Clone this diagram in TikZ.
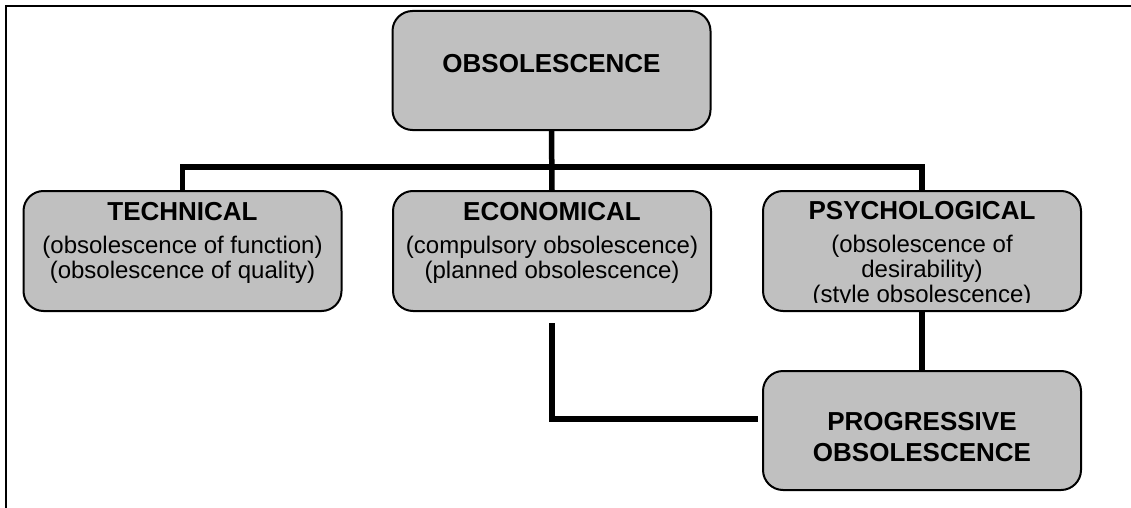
\documentclass[tikz,border=0pt]{standalone}
\usepackage{fontspec}
\setmainfont{Liberation Sans}
\definecolor{boxgray}{RGB}{192,192,192}
\newcommand{\ttl}[1]{{\fontsize{26}{25}\selectfont\bfseries #1}}
\tikzset{
  box/.style={draw=black, line width=2pt, fill=boxgray, rounded corners=20pt,
    minimum width=318pt, minimum height=120pt, inner sep=0pt, outer sep=0pt},
  boxtext/.style={align=center, inner sep=0pt, outer sep=0pt, anchor=north,
    font=\fontsize{24}{25}\selectfont},
  link/.style={line width=5.5pt, line join=miter},
  frameline/.style={line width=2.7pt, line join=miter}
}
\begin{document}
\begin{tikzpicture}[x=1pt,y=-1pt]
\useasboundingbox (0,0) rectangle (1131,508);
% frame
\draw[frameline] (6,508) -- (6,6) -- (1131,6);
% box nodes
\node[box, minimum height=119pt] (top) at (551.5,70.5) {};
\node[box] (tech) at (182.5,251) {};
\node[box] (econ) at (552,251) {};
\node[box] (psych) at (922,251) {};
\node[box, minimum height=119pt] (prog) at (922,430.5) {};
% connectors
\coordinate (bus) at (552,167);
\coordinate (e1) at (552,323);
\coordinate (e2) at (758,419);
\draw[link] (tech.north) |- (bus) -| (psych.north);
\draw[link] (top.south) -- (econ.north);
\draw[link] (psych.south) -- (prog.north);
\draw[link] (e1) |- (e2);
% texts
\node[boxtext] (topt) at (551.5,54) {\ttl{OBSOLESCENCE}};
\node[boxtext] (techt) at (182.5,202) {\ttl{TECHNICAL}\\[8pt](obsolescence of function)\\(obsolescence of quality)};
\node[boxtext] (econt) at (552,202) {\ttl{ECONOMICAL}\\[8pt](compulsory obsolescence)\\(planned obsolescence)};
\begin{scope}
\clip (763,191) rectangle (1081,302.5);
\node[boxtext] (psycht) at (922,201.5) {\ttl{PSYCHOLOGICAL}\\[8pt](obsolescence of\\desirability)\\(style obsolescence)};
\end{scope}
\node[boxtext] (progt) at (922,412.7) {\ttl{PROGRESSIVE}\\[6pt]\ttl{OBSOLESCENCE}};
\end{tikzpicture}
\end{document}
